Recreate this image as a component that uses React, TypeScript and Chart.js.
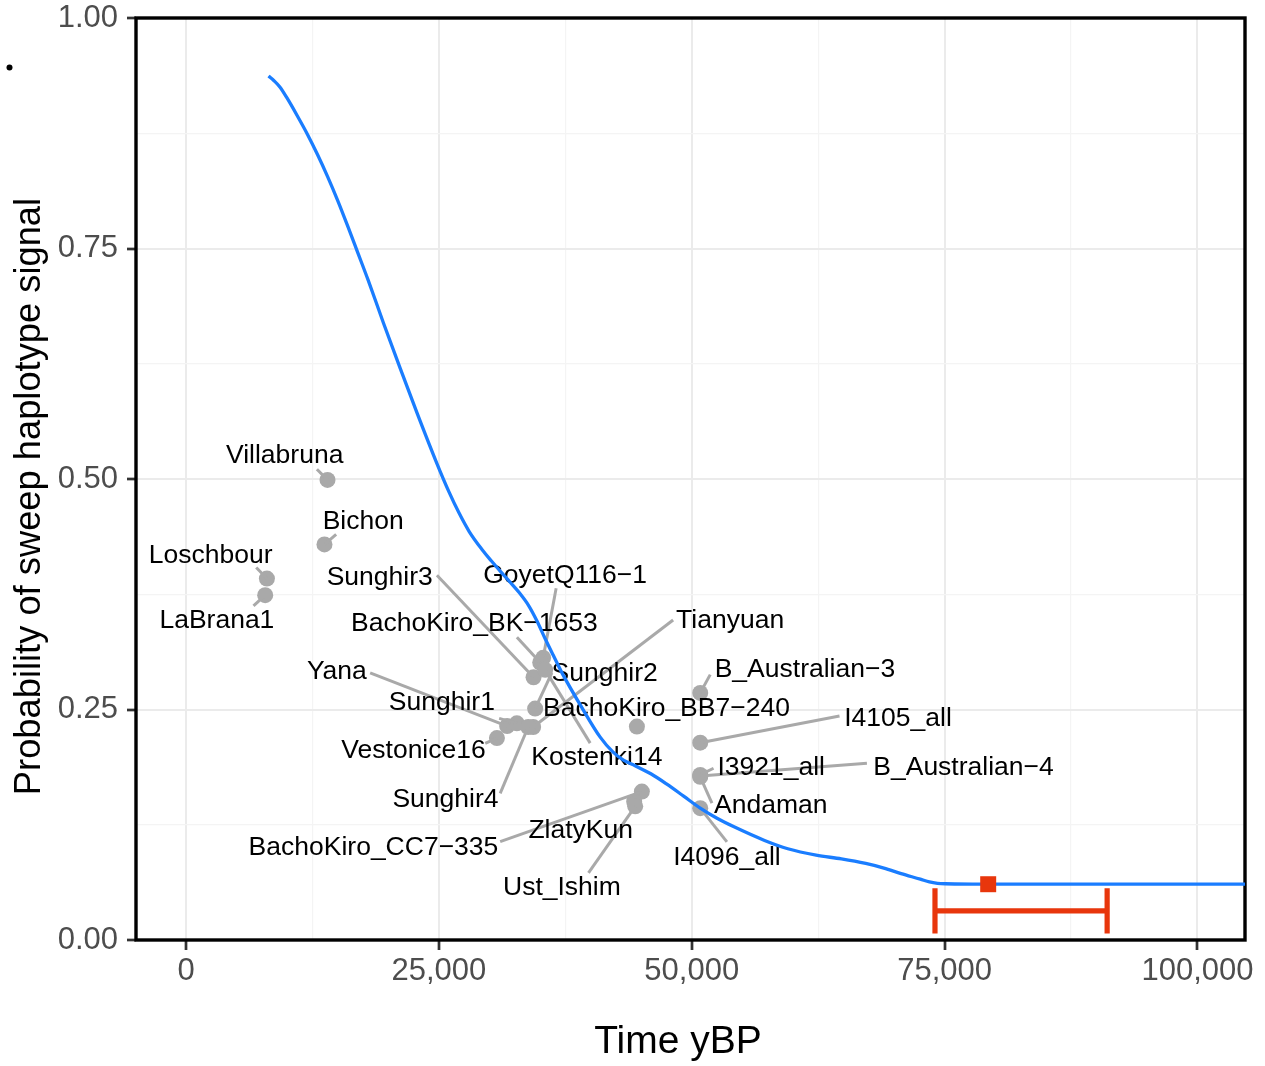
import React, { useEffect, useRef } from 'react';
import { Chart, registerables } from 'chart.js';

Chart.register(...registerables);

// ---------------- data ----------------
const SAMPLE_NAMES = [
  'Villabruna', 'Bichon', 'Loschbour', 'LaBrana1', 'Sunghir3', 'GoyetQ116\u22121',
  'BachoKiro_BK\u22121653', 'Kostenki14', 'Sunghir2', 'Tianyuan', 'Yana', 'Sunghir1',
  'Vestonice16', 'Sunghir4', 'BachoKiro_BB7\u2212240', 'B_Australian\u22123', 'I4105_all',
  'I3921_all', 'B_Australian\u22124', 'Andaman', 'I4096_all', 'BachoKiro_CC7\u2212335',
  'ZlatyKun', 'Ust_Ishim',
];
const SAMPLE_AGE = [
  13990, 13690, 8000, 7830, 34360, 35310,
  35020, 35510, 34520, 34320, 31750, 32710,
  30740, 33830, 44580, 50840, 50840,
  50840, 50840, 50840, 50840, 45070,
  44310, 44410,
];
const SAMPLE_PROB = [
  0.499, 0.429, 0.392, 0.374, 0.285, 0.306,
  0.301, 0.293, 0.251, 0.231, 0.232, 0.235,
  0.219, 0.231, 0.2315, 0.268, 0.214,
  0.179, 0.178, 0.177, 0.143, 0.161,
  0.150, 0.145,
];

const CURVE_AGE = [
  8160, 8700, 9300, 10000, 11000, 12000, 13000, 14000, 15000, 16000, 17000, 18000,
  19530, 21180, 22830, 24800, 26000, 27000, 28000, 29300, 30200, 31150, 32050, 33000,
  33860, 34700, 35500, 36300, 37160, 39140, 40950, 42200, 43250, 44400, 46000, 47540,
  49200, 50840, 52500, 54130, 57200, 59500, 62300, 64800, 67200, 69000, 70700, 72600,
  73500, 74300, 75070, 80000, 90000, 104720,
];
const CURVE_PROB = [
  0.937, 0.932, 0.925, 0.913, 0.894, 0.874, 0.852, 0.828, 0.802, 0.774, 0.745, 0.716,
  0.669, 0.620, 0.572, 0.517, 0.486, 0.463, 0.443, 0.423, 0.411, 0.399, 0.388, 0.376,
  0.363, 0.346, 0.327, 0.309, 0.290, 0.252, 0.220, 0.204, 0.195, 0.189, 0.180, 0.169,
  0.156, 0.143, 0.132, 0.123, 0.108, 0.099, 0.092, 0.088, 0.083, 0.078, 0.072, 0.066,
  0.063, 0.0615, 0.061, 0.0605, 0.0605, 0.0605,
];

const ESTIMATE_AGE = [79310];
const ESTIMATE_PROB = [0.0605];
const CI_LOW = 74050;
const CI_HIGH = 91070;
const CI_PROB = 0.0315;
const CI_CAP_HALF = 0.0245;

const X_MAJOR = [0, 25000, 50000, 75000, 100000];
const X_MINOR = [12500, 37500, 62500, 87500];
const Y_MAJOR = [0, 0.25, 0.5, 0.75, 1];
const Y_MINOR = [0.125, 0.375, 0.625, 0.875];
const X_LIMITS = [-4943, 104700];
const Y_LIMITS = [0, 1];

const X_TITLE = 'Time yBP';
const Y_TITLE = 'Probability of sweep haplotype signal';

// ---------------- layout (pixel offsets of repelled labels, relative to their point) ----------------
// [label centre dx, label baseline dy, segment end dx, segment end dy]
const LABEL_LAYOUT: (number | null)[][] = [
  [-42.8, -16.7, -10.6, -10.7],
  [38.7, -15, 11.7, -10],
  [-56.2, -15.6, -10.7, -11],
  [-48.3, 33.3, -11.7, 10.7],
  [-153.8, -92, -96.6, -102],
  [22, -74.7, 13, -69.7],
  [-65.8, -31.5, -23.3, -25.2],
  [51.7, 95, 45, 73.3],
  [69.5, -28, 16.7, -35.7],
  [197, -99, 140, -107],
  [-170.3, -46.7, -137, -53.3],
  [-75, -13.3, -17.7, -5],
  [-83.4, 20.3, -11.7, 5.3],
  [-82.7, 80.3, -28, 66.3],
  [29.6, -10.7, null, null],
  [104.7, -16, 10, -18.3],
  [197.8, -16.7, 139.3, -26.7],
  [71, 0, 13.3, -6.7],
  [263.3, -1, 166.7, -12.7],
  [70.5, 36.3, 11.7, 26.3],
  [26.7, 57, 26.7, 33.7],
  [-268.4, 63.3, -141.7, 50],
  [-53.5, 36.6, null, null],
  [-73.3, 89, -46.7, 66.6],
];

const FONT = '"Liberation Sans", Arial, Helvetica, sans-serif';
const POINT_GREY = '#A9A9A9';
const BLUE = '#1A7DFF';
const RED = '#E8360C';

const fmtThousands = (v: number) => String(v).replace(/\B(?=(\d{3})+(?!\d))/g, ',');

const labelPlugin = {
  id: 'repelLabels',
  afterDatasetDraw(chart: any, args: any) {
    if (args.index !== 0) return;
    const ctx = chart.ctx;
    const xs = chart.scales.x;
    const ys = chart.scales.y;
    ctx.save();
    ctx.strokeStyle = POINT_GREY;
    ctx.lineWidth = 3;
    ctx.lineCap = 'butt';
    SAMPLE_NAMES.forEach((_, i) => {
      const lay = LABEL_LAYOUT[i];
      if (lay[2] === null) return;
      const px = xs.getPixelForValue(SAMPLE_AGE[i]);
      const py = ys.getPixelForValue(SAMPLE_PROB[i]);
      ctx.beginPath();
      ctx.moveTo(px, py);
      ctx.lineTo(px + (lay[2] as number), py + (lay[3] as number));
      ctx.stroke();
    });
    ctx.fillStyle = '#000000';
    ctx.font = `26.5px ${FONT}`;
    ctx.textAlign = 'center';
    ctx.textBaseline = 'alphabetic';
    SAMPLE_NAMES.forEach((name, i) => {
      const lay = LABEL_LAYOUT[i];
      const px = xs.getPixelForValue(SAMPLE_AGE[i]);
      const py = ys.getPixelForValue(SAMPLE_PROB[i]);
      ctx.fillText(name, px + (lay[0] as number), py + (lay[1] as number));
    });
    ctx.restore();
  },
};

const errorBarPlugin = {
  id: 'errorBar',
  afterDatasetDraw(chart: any, args: any) {
    if (args.index !== 1) return;
    const ctx = chart.ctx;
    const xs = chart.scales.x;
    const ys = chart.scales.y;
    const x1 = xs.getPixelForValue(CI_LOW);
    const x2 = xs.getPixelForValue(CI_HIGH);
    const y = ys.getPixelForValue(CI_PROB);
    const yt = ys.getPixelForValue(CI_PROB + CI_CAP_HALF);
    const yb = ys.getPixelForValue(CI_PROB - CI_CAP_HALF);
    ctx.save();
    ctx.strokeStyle = RED;
    ctx.lineWidth = 5.2;
    ctx.lineCap = 'butt';
    ctx.beginPath();
    ctx.moveTo(x1, y);
    ctx.lineTo(x2, y);
    ctx.moveTo(x1, yt);
    ctx.lineTo(x1, yb);
    ctx.moveTo(x2, yt);
    ctx.lineTo(x2, yb);
    ctx.stroke();
    ctx.restore();
  },
};

const framePlugin = {
  id: 'frame',
  beforeDatasetsDraw(chart: any) {
    const { ctx, chartArea } = chart;
    ctx.save();
    ctx.strokeStyle = '#000000';
    ctx.lineWidth = 3.4;
    ctx.strokeRect(chartArea.left, chartArea.top, chartArea.right - chartArea.left, chartArea.bottom - chartArea.top);
    ctx.restore();
  },
};

const titlePlugin = {
  id: 'titles',
  afterDraw(chart: any) {
    const { ctx } = chart;
    ctx.save();
    ctx.fillStyle = '#000000';
    ctx.textAlign = 'center';
    ctx.textBaseline = 'alphabetic';
    ctx.font = `39px ${FONT}`;
    ctx.fillText(X_TITLE, 678, 1052.5);
    ctx.font = `36.3px ${FONT}`;
    ctx.translate(40, 496.5);
    ctx.rotate(-Math.PI / 2);
    ctx.fillText(Y_TITLE, 0, 0);
    ctx.restore();
    // stray tag dot in the upper-left corner
    ctx.save();
    ctx.fillStyle = '#000000';
    ctx.beginPath();
    ctx.arc(9.5, 67.5, 3, 0, Math.PI * 2);
    ctx.fill();
    ctx.restore();
  },
};

const isIn = (arr: number[], v: number) => arr.some((a) => Math.abs(a - v) < 1e-9);

export default function App() {
  const ref = useRef<HTMLCanvasElement | null>(null);
  useEffect(() => {
    if (!ref.current) return;
    const xTicks = [...X_MAJOR, ...X_MINOR].sort((a, b) => a - b);
    const yTicks = [...Y_MAJOR, ...Y_MINOR].sort((a, b) => a - b);
    const gridColor = (major: number[]) => (c: any) =>
      c.tick && isIn(major, c.tick.value) ? '#EBEBEB' : '#F4F4F4';
    const gridWidth = (major: number[]) => (c: any) =>
      c.tick && isIn(major, c.tick.value) ? 2 : 1.2;
    const tickColor = (major: number[]) => (c: any) =>
      c.tick && isIn(major, c.tick.value) ? '#333333' : 'rgba(0,0,0,0)';

    const chart = new Chart(ref.current, {
      type: 'scatter',
      data: {
        datasets: [
          {
            type: 'scatter',
            label: 'samples',
            data: SAMPLE_AGE.map((x, i) => ({ x, y: SAMPLE_PROB[i] })),
            pointRadius: 8,
            pointHoverRadius: 8,
            pointBackgroundColor: POINT_GREY,
            pointBorderWidth: 0,
            order: 3,
          },
          {
            type: 'line',
            label: 'curve',
            data: CURVE_AGE.map((x, i) => ({ x, y: CURVE_PROB[i] })),
            borderColor: BLUE,
            borderWidth: 3.3,
            pointRadius: 0,
            fill: false,
            cubicInterpolationMode: 'monotone',
            order: 2,
          },
          {
            type: 'scatter',
            label: 'estimate',
            data: ESTIMATE_AGE.map((x, i) => ({ x, y: ESTIMATE_PROB[i] })),
            pointStyle: 'rect',
            pointRadius: 11.3,
            pointBackgroundColor: RED,
            pointBorderWidth: 0,
            order: 1,
          },
        ] as any,
      },
      options: {
        responsive: false,
        maintainAspectRatio: false,
        animation: false,
        devicePixelRatio: 1,
        events: [],
        layout: { padding: { top: 18, right: 20, left: 0, bottom: 0 } },
        plugins: { legend: { display: false }, tooltip: { enabled: false } },
        scales: {
          x: {
            type: 'linear',
            min: X_LIMITS[0],
            max: X_LIMITS[1],
            afterBuildTicks: (s: any) => {
              s.ticks = xTicks.map((v) => ({ value: v }));
            },
            afterFit: (s: any) => {
              s.height = 126;
              s.paddingLeft = 0;
              s.paddingRight = 0;
            },
            border: { display: false },
            grid: {
              color: gridColor(X_MAJOR),
              lineWidth: gridWidth(X_MAJOR),
              tickColor: tickColor(X_MAJOR),
              tickWidth: 2.7,
              tickLength: 10,
              drawTicks: true,
            },
            ticks: {
              autoSkip: false,
              maxRotation: 0,
              minRotation: 0,
              color: '#4D4D4D',
              padding: 3,
              font: { family: FONT, size: 31 },
              callback: (v: any) => (isIn(X_MAJOR, Number(v)) ? fmtThousands(Number(v)) : ''),
            },
          },
          y: {
            type: 'linear',
            min: Y_LIMITS[0],
            max: Y_LIMITS[1],
            afterBuildTicks: (s: any) => {
              s.ticks = yTicks.map((v) => ({ value: v }));
            },
            afterFit: (s: any) => {
              s.width = 136;
              s.paddingTop = 0;
              s.paddingBottom = 0;
            },
            border: { display: false },
            grid: {
              color: gridColor(Y_MAJOR),
              lineWidth: gridWidth(Y_MAJOR),
              tickColor: tickColor(Y_MAJOR),
              tickWidth: 2.7,
              tickLength: 9,
              drawTicks: true,
            },
            ticks: {
              autoSkip: false,
              color: '#4D4D4D',
              padding: 9,
              font: { family: FONT, size: 31 },
              callback: (v: any) => (isIn(Y_MAJOR, Number(v)) ? Number(v).toFixed(2) : ''),
            },
          },
        },
      } as any,
      plugins: [framePlugin, labelPlugin, errorBarPlugin, titlePlugin],
    });
    return () => chart.destroy();
  }, []);

  return (
    <div style={{ position: 'absolute', left: 0, top: 0, width: 1265, height: 1066, background: '#ffffff' }}>
      <canvas ref={ref} width={1265} height={1066} style={{ display: 'block' }} />
    </div>
  );
}
